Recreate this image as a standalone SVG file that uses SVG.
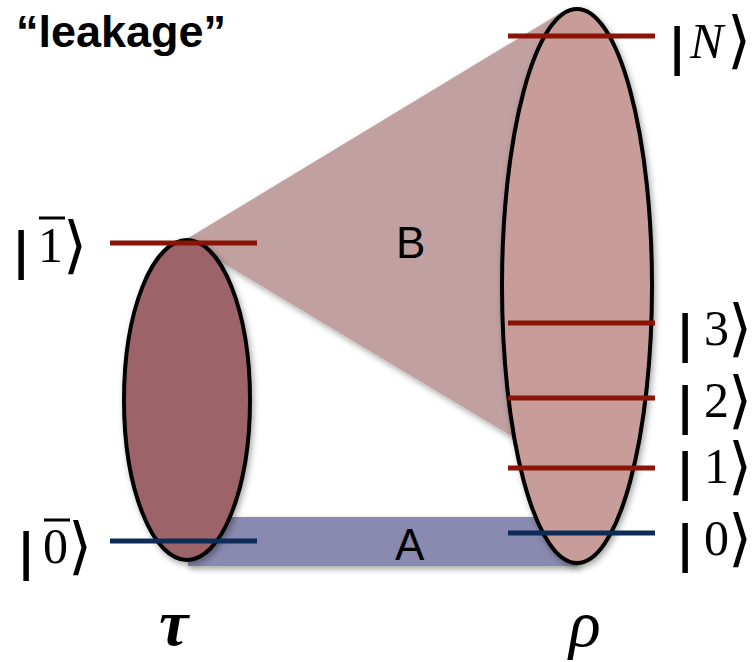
<svg xmlns="http://www.w3.org/2000/svg" width="755" height="662" viewBox="0 0 755 662">
  <style>
    .lvl-r { stroke: #8a1408; stroke-width: 5; }
    .lvl-b { stroke: #0d2b57; stroke-width: 5; }
    .ell { stroke: #000; stroke-width: 4; }
    .ket { font-family: "Liberation Serif", "Times New Roman", serif; font-size: 50px; fill: #000; }
    .bar { font-family: "DejaVu Sans", sans-serif; font-weight: bold; font-size: 50px; fill: #000; }
    .ang { font-family: "DejaVu Serif", "DejaVu Sans", serif; font-size: 62px; fill: #000; }
    .lbl { font-family: "Liberation Sans", Arial, sans-serif; font-size: 44px; fill: #000; }
    .ovl { stroke: #000; stroke-width: 3; }
  </style>
  <defs>
    <filter id="sh" x="-10%" y="-10%" width="125%" height="125%">
      <feDropShadow dx="2" dy="3" stdDeviation="3" flood-color="#000" flood-opacity="0.35"/>
    </filter>
  </defs>
  <rect width="755" height="662" fill="#ffffff"/>

  <text x="16" y="47" font-family="Liberation Sans, Arial, sans-serif" font-weight="bold" font-size="45px" fill="#000">“leakage”</text>

  <g id="connectors">
    <g id="B">
      <polygon points="185,240 562,12 518,440" fill="#c0a0a0" filter="url(#sh)"/>
      <text class="lbl" x="396" y="258">B</text>
    </g>
    <g id="A">
      <rect x="188" y="517" width="390" height="49" fill="#8a8ab0" filter="url(#sh)"/>
      <text class="lbl" x="395" y="560">A</text>
    </g>
  </g>

  <g id="tau">
    <ellipse class="ell" cx="187" cy="400" rx="63" ry="160" fill="#9c6468" filter="url(#sh)"/>
    <line class="lvl-r" x1="110" y1="243" x2="257" y2="243"/>
    <line class="lvl-b" x1="110" y1="541" x2="257" y2="541"/>
    <text x="159" y="645" font-family="Liberation Serif, Times New Roman, serif" font-style="italic" font-weight="bold" font-size="66px">τ</text>
    <g id="ket-1bar">
      <text class="bar" x="12" y="268">|</text>
      <text class="ket" x="38" y="262">1</text>
      <line class="ovl" x1="39" y1="218" x2="65" y2="218"/>
      <text class="ang" x="63" y="266">⟩</text>
    </g>
    <g id="ket-0bar">
      <text class="bar" x="17" y="569">|</text>
      <text class="ket" x="43" y="563">0</text>
      <line class="ovl" x1="44" y1="520" x2="70" y2="520"/>
      <text class="ang" x="68" y="567">⟩</text>
    </g>
  </g>

  <g id="rho">
    <ellipse class="ell" cx="577" cy="286" rx="75" ry="277" fill="#c89c98" filter="url(#sh)"/>
    <line class="lvl-r" x1="508" y1="36" x2="655" y2="36"/>
    <line class="lvl-r" x1="508" y1="323" x2="655" y2="323"/>
    <line class="lvl-r" x1="508" y1="398" x2="655" y2="398"/>
    <line class="lvl-r" x1="508" y1="468" x2="655" y2="468"/>
    <line class="lvl-b" x1="508" y1="533" x2="655" y2="533"/>
    <text x="569" y="646" font-family="Liberation Serif, Times New Roman, serif" font-style="italic" font-size="66px">ρ</text>
    <g id="ket-N">
      <text class="bar" x="668" y="64">|</text>
      <text class="ket" x="690" y="58" font-style="italic" font-size="54px">N</text>
      <text class="ang" x="727" y="61" font-size="54px">⟩</text>
    </g>
    <g id="ket-3">
      <text class="bar" x="676" y="351">|</text>
      <text class="ket" x="704" y="345">3</text>
      <text class="ang" x="728" y="349">⟩</text>
    </g>
    <g id="ket-2">
      <text class="bar" x="676" y="423">|</text>
      <text class="ket" x="704" y="417">2</text>
      <text class="ang" x="728" y="421">⟩</text>
    </g>
    <g id="ket-1">
      <text class="bar" x="676" y="489">|</text>
      <text class="ket" x="704" y="483">1</text>
      <text class="ang" x="728" y="487">⟩</text>
    </g>
    <g id="ket-0">
      <text class="bar" x="676" y="561">|</text>
      <text class="ket" x="704" y="555">0</text>
      <text class="ang" x="728" y="559">⟩</text>
    </g>
  </g>
</svg>
